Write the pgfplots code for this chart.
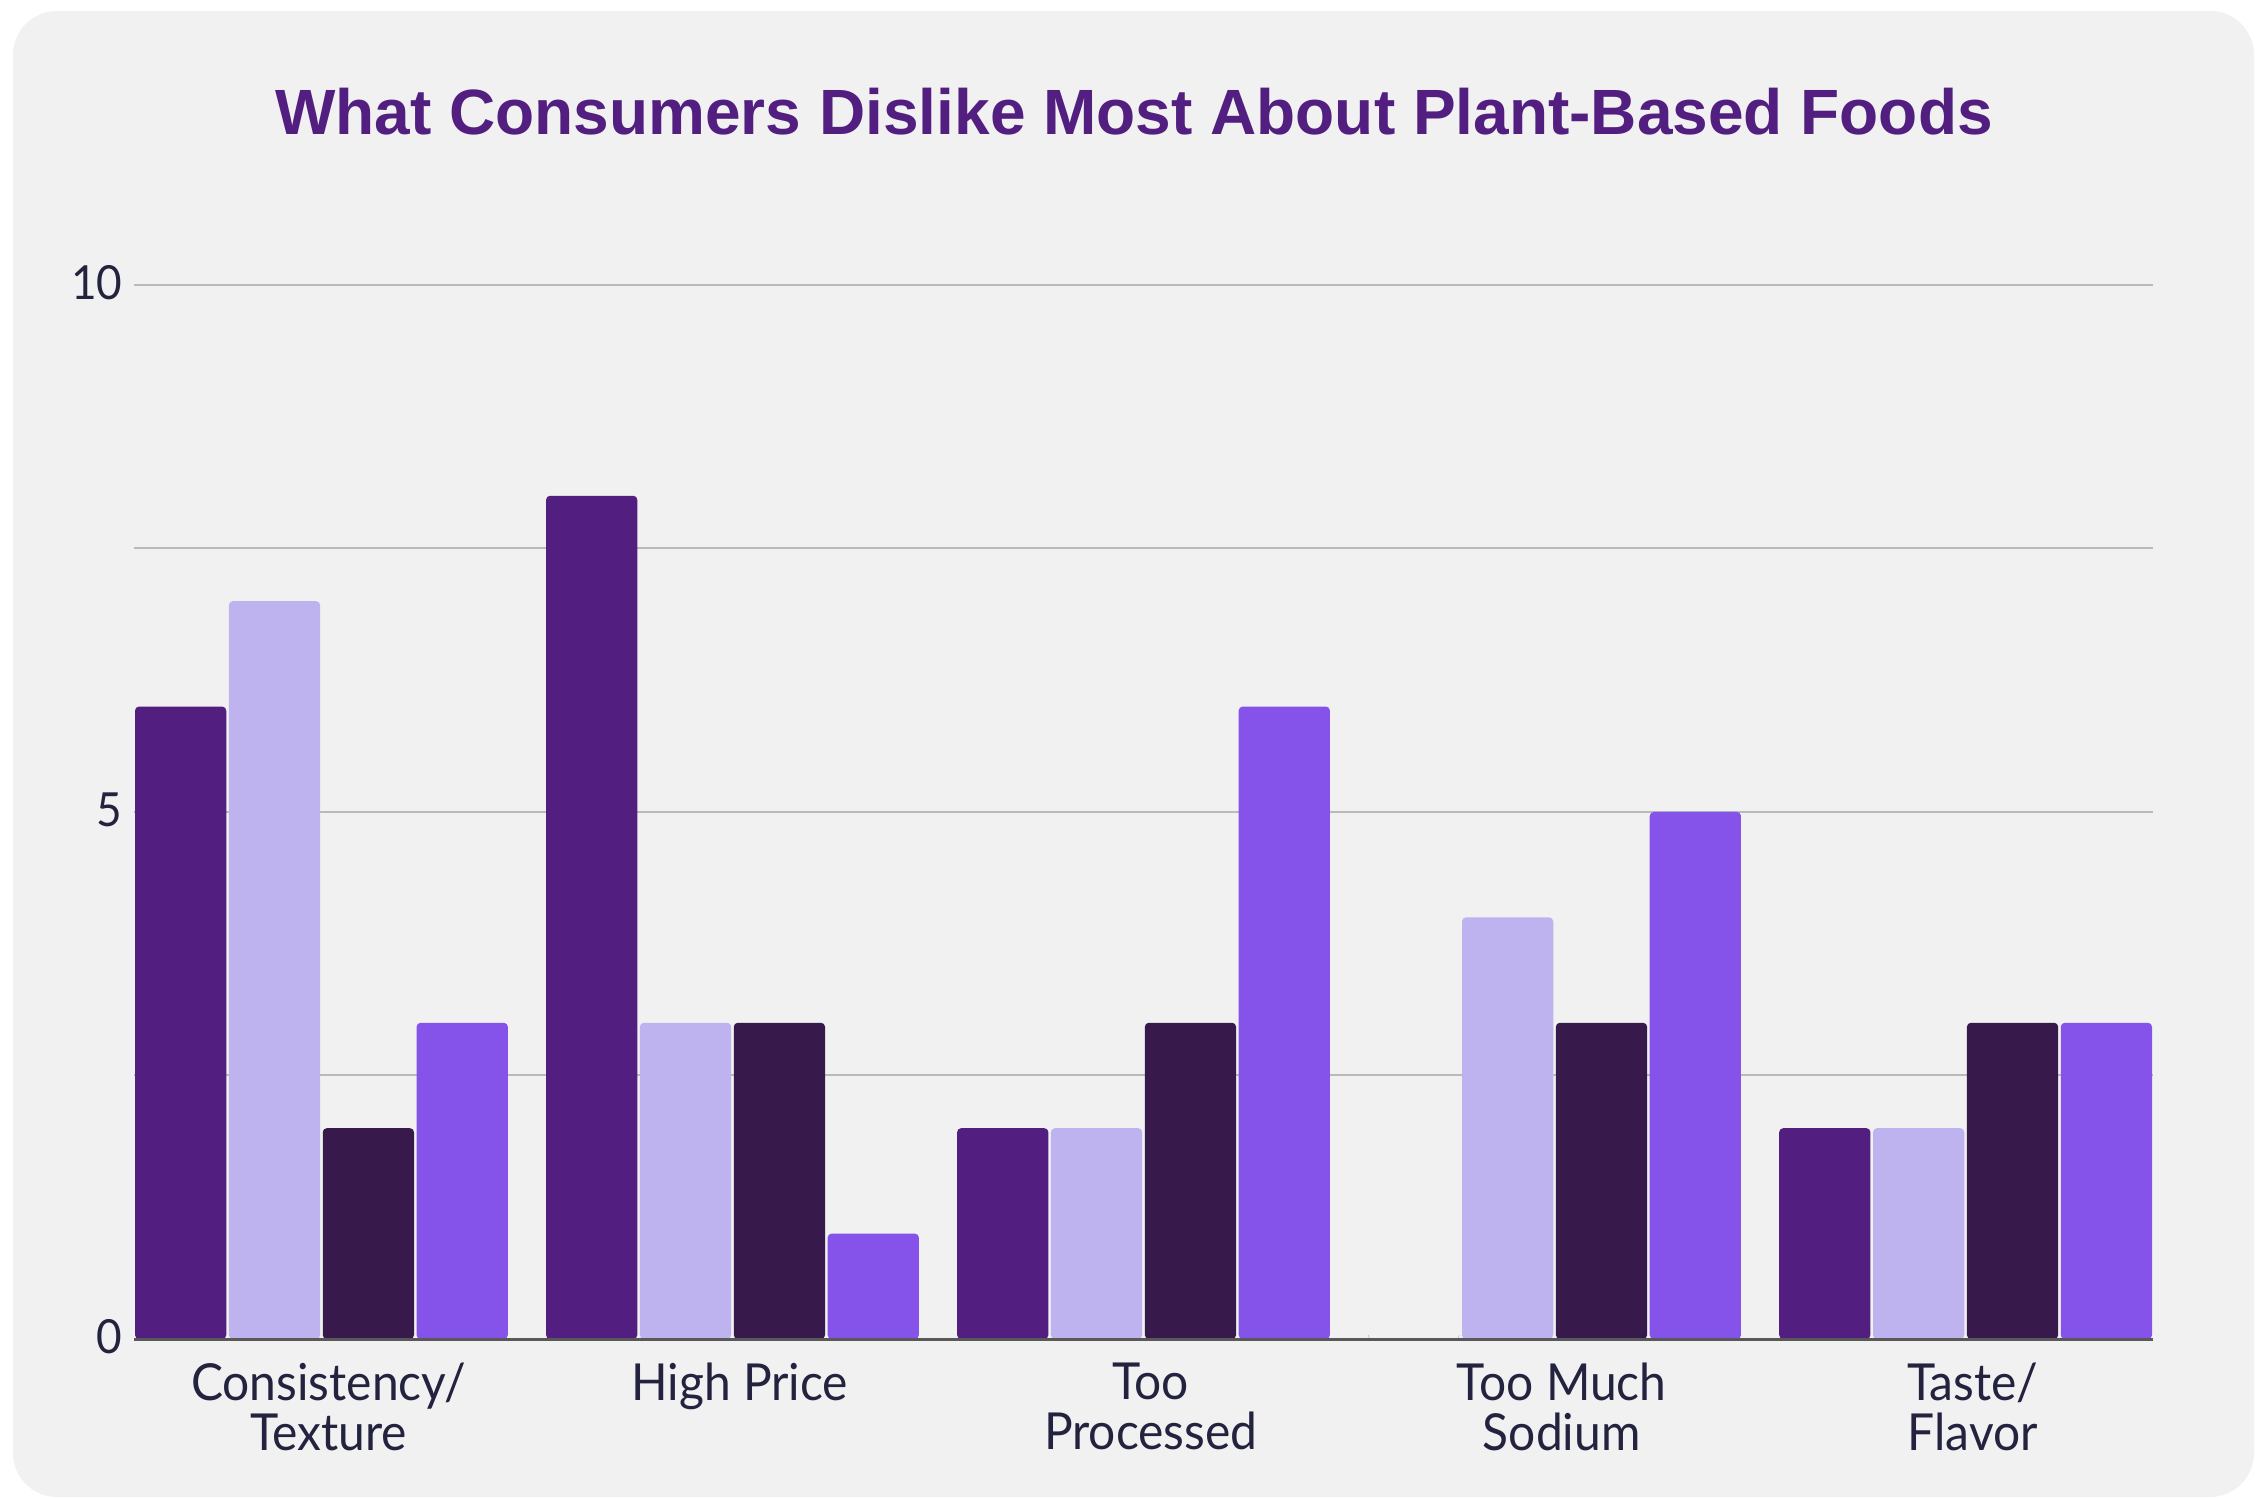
\documentclass[border=0pt]{standalone}
\usepackage{pgfplots}
\pgfplotsset{compat=1.18}
\usepackage{fontspec}
\setmainfont{Lato}
\newfontfamily\labelfont{Lato}[FakeStretch=0.94]
\newfontfamily\titlefont{Liberation Sans}
\definecolor{s1}{HTML}{521F80}
\definecolor{s2}{HTML}{BEB3EE}
\definecolor{s3}{HTML}{371A4B}
\definecolor{s4}{HTML}{8553EA}
\definecolor{bg}{HTML}{F1F1F1}
\definecolor{txt}{HTML}{23233F}
\begin{document}
\begin{tikzpicture}[x=0.25pt,y=0.25pt]
\useasboundingbox (0,0) rectangle (2255,1498);
\fill[white] (0,0) rectangle (2255,1498);
\fill[bg, rounded corners=11pt] (13,1) rectangle (2254,1487);
\node[font=\titlefont\bfseries\fontsize{16}{19}\selectfont, text=s1] at (1134,1386) {What Consumers Dislike Most About Plant-Based Foods};
\begin{axis}[
  at={(134pt*0.25,159pt*0.25)}, anchor=south west,
  scale only axis, width=504.75pt, height=263.5pt,
  xmin=-0.456, xmax=4.456, ymin=0, ymax=10,
  axis line style={draw=none}, tick style={draw=none},
  ymajorgrids, grid style={color=black!27, line width=0.5pt},
  ytick={0,2.5,5,7.5,10}, yticklabels={0,,5,,10},
  xtick={0,1,2,3,4},
  xticklabels={Consistency/\\Texture, High Price, Too\\Processed, Too Much\\Sodium, Taste/\\Flavor},
  xticklabel style={font=\labelfont\fontsize{12.75}{12.5}\selectfont, text=txt, align=center, yshift=-2.4pt, xshift=1.8pt},
  yticklabel style={font=\labelfont\fontsize{11.75}{14}\selectfont, text=txt, xshift=0.6pt, yshift=0.6pt},
  clip=false,
]
\addplot[ybar, bar width=0.222, bar shift=-0.3425, fill=s1, draw=none, rounded corners=1pt] coordinates {(0,6) (1,8) (2,2) (3,0) (4,2)};
\addplot[ybar, bar width=0.222, bar shift=-0.1142, fill=s2, draw=none, rounded corners=1pt] coordinates {(0,7) (1,3) (2,2) (3,4) (4,2)};
\addplot[ybar, bar width=0.222, bar shift=0.1142, fill=s3, draw=none, rounded corners=1pt] coordinates {(0,2) (1,3) (2,3) (3,3) (4,3)};
\addplot[ybar, bar width=0.222, bar shift=0.3425, fill=s4, draw=none, rounded corners=1pt] coordinates {(0,3) (1,1) (2,6) (3,5) (4,3)};
\draw[color=black!65, line width=0.75pt] (axis cs:-0.456,0) -- (axis cs:4.456,0);
\end{axis}
\end{tikzpicture}
\end{document}
